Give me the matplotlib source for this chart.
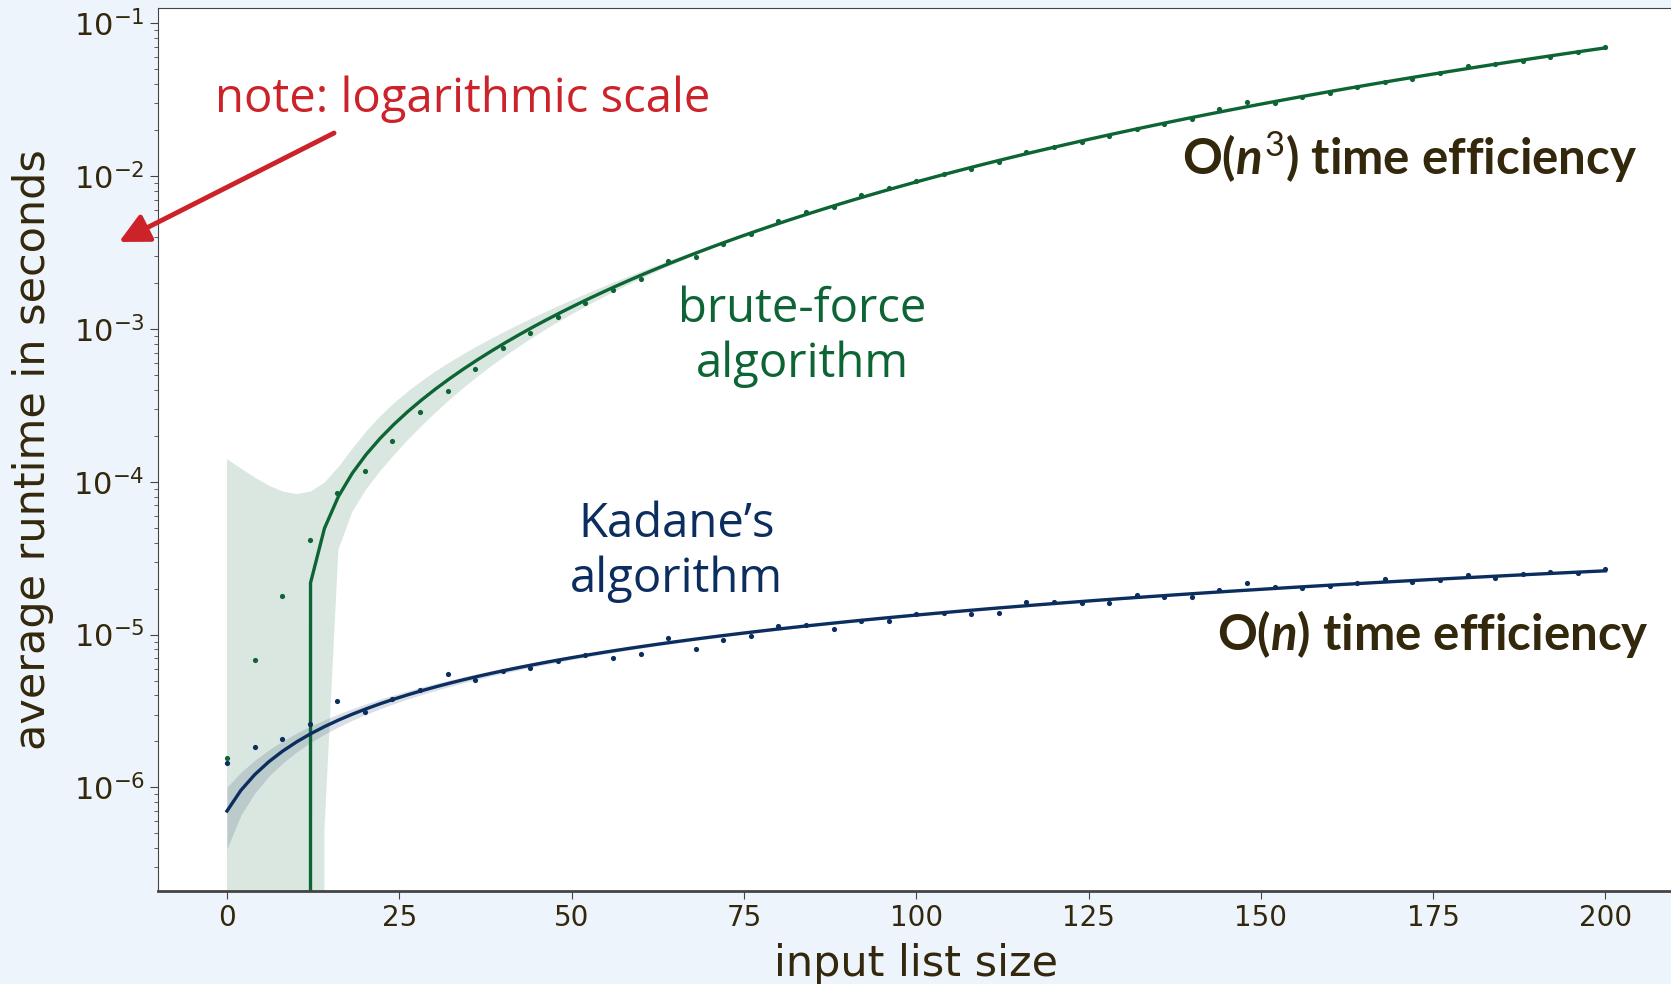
# Runtime of brute-force vs Kadane's max-subarray algorithm, log scale

import numpy as np
import matplotlib.pyplot as plt

list_sizes = list(range(0, 201, 4))

brute_force_runtime = [
    1.55e-6, 6.85e-6, 1.78e-5, 4.16e-5, 8.5e-5, 1.17e-4, 1.86e-4, 2.88e-4,
    3.91e-4, 5.43e-4, 7.53e-4, 9.38e-4, 1.19e-3, 1.48e-3, 1.81e-3, 2.11e-3,
    2.78e-3, 2.96e-3, 3.58e-3, 4.16e-3, 5.09e-3, 5.82e-3, 6.28e-3, 7.5e-3,
    8.3e-3, 9.27e-3, 1.04e-2, 1.12e-2, 1.24e-2, 1.44e-2, 1.55e-2, 1.67e-2,
    1.83e-2, 2.03e-2, 2.19e-2, 2.36e-2, 2.74e-2, 3.06e-2, 3.03e-2, 3.3e-2,
    3.51e-2, 3.81e-2, 4.1e-2, 4.31e-2, 4.7e-2, 5.25e-2, 5.38e-2, 5.69e-2,
    5.98e-2, 6.51e-2, 7.03e-2]

kadane_runtime = [
    1.45e-6, 1.85e-6, 2.06e-6, 2.6e-6, 3.66e-6, 3.1e-6, 3.77e-6, 4.32e-6,
    5.5e-6, 5.07e-6, 5.78e-6, 6.02e-6, 6.73e-6, 7.3e-6, 7.07e-6, 7.44e-6,
    9.55e-6, 8.05e-6, 9.22e-6, 9.8e-6, 1.13e-5, 1.16e-5, 1.09e-5, 1.22e-5,
    1.22e-5, 1.36e-5, 1.38e-5, 1.36e-5, 1.39e-5, 1.64e-5, 1.64e-5, 1.61e-5,
    1.62e-5, 1.81e-5, 1.77e-5, 1.77e-5, 1.95e-5, 2.16e-5, 2.06e-5, 2.01e-5,
    2.08e-5, 2.16e-5, 2.31e-5, 2.21e-5, 2.27e-5, 2.45e-5, 2.34e-5, 2.49e-5,
    2.55e-5, 2.52e-5, 2.68e-5]

x_ticks = [0, 25, 50, 75, 100, 125, 150, 175, 200]

green = '#0d6434'
navy = '#0c2e5e'
brown = '#33280c'
red = '#cc2229'
bg = '#eef4fc'


def poly_fit(x, y, order, grid):
    # least squares polynomial fit, 95% band from a robust (sandwich)
    # covariance so it behaves like a bootstrap on uneven residuals
    x = np.asarray(x, float)
    y = np.asarray(y, float)
    X = np.vander(x, order + 1)
    beta, *_ = np.linalg.lstsq(X, y, rcond=None)
    resid = y - X @ beta
    bread = np.linalg.inv(X.T @ X)
    meat = X.T @ (X * resid[:, None] ** 2)
    cov = bread @ meat @ bread
    G = np.vander(grid, order + 1)
    fit = G @ beta
    se = np.sqrt(np.einsum('ij,jk,ik->i', G, cov, G))
    return fit, fit - 1.96 * se, fit + 1.96 * se


fig = plt.figure(figsize=(16.71, 9.84), dpi=100, facecolor=bg)
ax = fig.add_axes([0.0946, 0.0945, 0.9074, 0.8969])
ax.set_facecolor('white')
ax.set_yscale('log')

grid = np.linspace(min(list_sizes), max(list_sizes), 100)

for y, order, col in [(brute_force_runtime, 3, green), (kadane_runtime, 1, navy)]:
    fit, lo, hi = poly_fit(list_sizes, y, order, grid)
    ax.fill_between(grid, lo, hi, color=col, alpha=0.15, lw=0)
    ax.plot(grid, fit, color=col, lw=2.4)
    ax.scatter(list_sizes, y, s=14, color=col, lw=0, zorder=3)

ax.set_xlim(-10, 210)
ax.set_ylim(2.1e-7, 1.25e-1)
ax.set_xticks(x_ticks)
ax.tick_params(axis='both', which='major', labelsize=20, labelcolor=brown,
               length=6, color='#444444')
ax.tick_params(axis='y', which='major', labelsize=22)
ax.tick_params(axis='y', which='minor', length=3, color='#444444')
for s in ax.spines.values():
    s.set_color('#444444')
ax.spines['bottom'].set_linewidth(2)

ax.set_xlabel('input list size', fontsize=31, color=brown, labelpad=8)
ax.set_ylabel('average runtime in seconds', fontsize=31, color=brown, labelpad=14)

# annotations
fig.text(0.277, 0.899, 'note: logarithmic scale', family='Open Sans',
         fontsize=34, color=red, ha='center', va='center')
ax.annotate('', xy=(0.0712, 0.7541), xycoords='figure fraction',
            xytext=(0.1999, 0.8648), textcoords='figure fraction',
            annotation_clip=False,
            arrowprops=dict(arrowstyle='-|>', color=red, lw=3.5,
                            mutation_scale=45, shrinkA=0, shrinkB=0))

fig.text(0.48, 0.658, 'brute-force\nalgorithm', family='Open Sans',
         fontsize=34, color=green, ha='center', va='center', linespacing=1.2)
fig.text(0.405, 0.439, 'Kadane\u2019s\nalgorithm', family='Open Sans',
         fontsize=34, color=navy, ha='center', va='center', linespacing=1.2)

plt.rcParams['mathtext.fontset'] = 'custom'
plt.rcParams['mathtext.it'] = 'Lato:italic:bold'
plt.rcParams['mathtext.rm'] = 'Lato'
fig.text(0.980, 0.8404, r'O($n^{3}$) time efficiency', family='Lato',
         fontweight='bold', fontsize=35.5, color=brown, ha='right', va='center')
fig.text(0.987, 0.3557, r'O($n$) time efficiency', family='Lato',
         fontweight='bold', fontsize=35.5, color=brown, ha='right', va='center')

plt.savefig('out.png', dpi=100, facecolor=bg)
